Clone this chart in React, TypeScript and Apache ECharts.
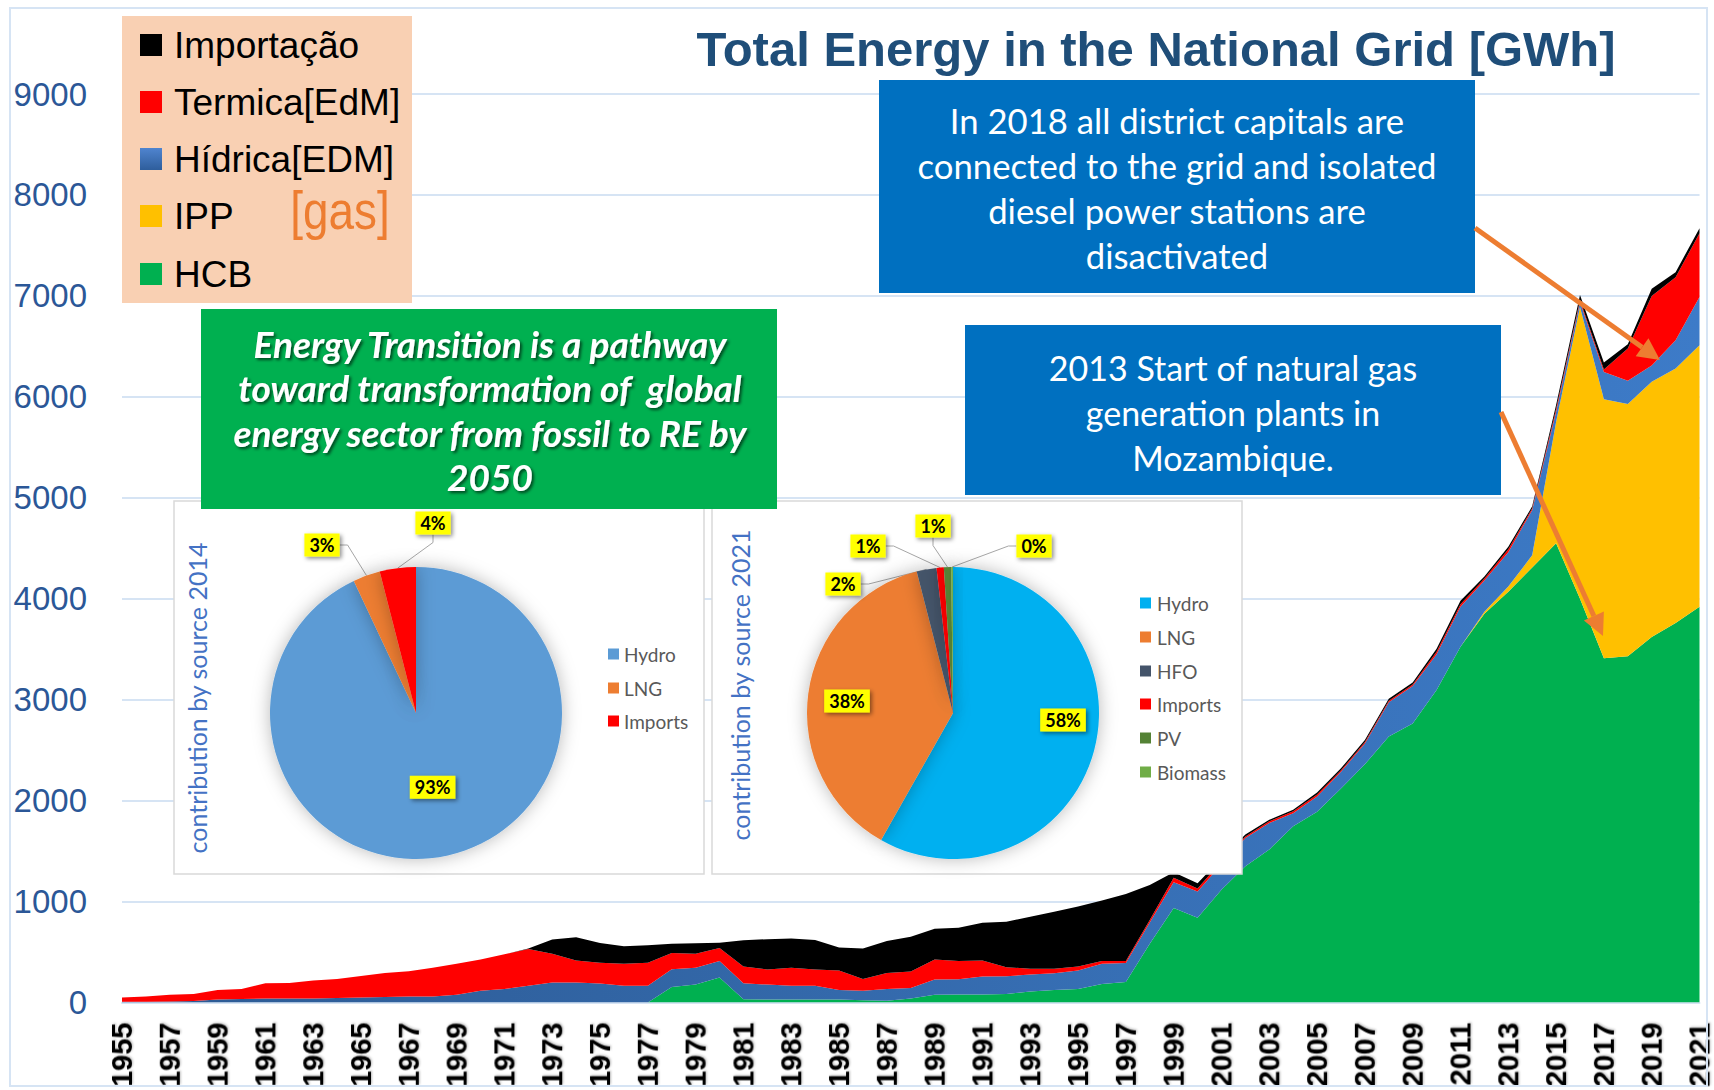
import React, { useEffect, useRef } from 'react';
import * as echarts from 'echarts';

const years = [
  '1955','1956','1957','1958','1959','1960','1961','1962','1963','1964',
  '1965','1966','1967','1968','1969','1970','1971','1972','1973','1974',
  '1975','1976','1977','1978','1979','1980','1981','1982','1983','1984',
  '1985','1986','1987','1988','1989','1990','1991','1992','1993','1994',
  '1995','1996','1997','1998','1999','2000','2001','2002','2003','2004',
  '2005','2006','2007','2008','2009','2010','2011','2012','2013','2014',
  '2015','2016','2017','2018','2019','2020','2021'
];

// GWh per source (stack order bottom -> top)
const hcb = [
  0,0,0,0,0,0,0,0,0,0,
  0,0,0,0,0,0,0,0,0,0,
  0,0,0,153,177,247,33,30,30,30,
  30,23,17,40,77,80,80,83,110,123,
  133,183,203,583,935,840,1118,1350,1515,1745,
  1890,2120,2360,2634,2765,3096,3525,3850,4070,4310,
  4550,4000,3410,3430,3620,3760,3920
];
const ipp = [
  0,0,0,0,0,0,0,0,0,0,
  0,0,0,0,0,0,0,0,0,0,
  0,0,0,0,0,0,0,0,0,0,
  0,0,0,0,0,0,0,0,0,0,
  0,0,0,0,0,0,0,0,0,0,
  0,0,0,0,0,0,0,20,50,120,
  1200,2890,2565,2500,2530,2520,2590
];
const hidrica = [
  7,8,10,15,30,35,40,40,40,45,
  50,55,60,60,77,117,133,167,197,197,
  187,167,167,177,166,163,157,147,137,137,
  93,94,116,103,150,150,177,177,167,167,
  184,200,187,210,255,260,252,280,263,130,
  150,165,205,341,370,354,395,310,340,450,
  100,50,270,230,160,280,480
];
const termica = [
  43,52,67,68,93,98,150,153,177,188,
  213,238,250,283,306,310,344,363,286,220,
  206,216,226,160,140,130,167,150,176,160,
  194,116,160,164,200,180,160,90,56,43,
  40,27,20,24,45,30,30,15,17,20,
  20,15,15,15,15,25,25,20,30,15,
  30,20,25,320,690,625,630
];
const importacao = [
  0,0,0,0,0,0,0,0,0,0,
  0,0,0,0,0,0,0,5,140,230,
  197,174,174,93,104,53,260,300,290,293,
  228,302,317,343,303,330,373,450,517,567,
  593,600,665,348,55,50,30,20,15,15,
  20,20,20,20,20,30,35,20,25,20,
  40,50,70,40,70,50,50
];

const legendNames = ['Importação', 'Termica[EdM]', 'Hídrica[EDM]', 'IPP', 'HCB'];

const pie2014Names = ['Hydro', 'LNG', 'Imports'];
const pie2014Values = [93, 3, 4];
const pie2021Names = ['Hydro', 'LNG', 'HFO', 'Imports', 'PV', 'Biomass'];
const pie2021Values = [58.2, 37.8, 2.2, 0.8, 0.8, 0.2];

const titleText = 'Total Energy in the National Grid [GWh]';
const noteGreen = 'Energy Transition is a pathway\ntoward transformation of  global\nenergy sector from fossil to RE by\n2050';
const note2018 = 'In 2018 all district capitals are\nconnected to the grid and isolated\ndiesel power stations are\ndisactivated';
const note2013 = '2013 Start of natural gas\ngeneration plants in\nMozambique.';

const C_BLACK = '#000000';
const C_RED = '#FF0000';
const C_YELLOW = '#FFC000';
const C_GREEN = '#00B050';
const blueGrad = () =>
  new echarts.graphic.LinearGradient(0, 0, 1, 0, [
    { offset: 0, color: '#2C5A93' },
    { offset: 1, color: '#3D7BC8' },
  ]);

const pie2014Colors = ['#5B9BD5', '#ED7D31', '#FF0000'];
const pie2021Colors = ['#00B0F0', '#ED7D31', '#44546A', '#FF0000', '#548235', '#70AD47'];

export default function App() {
  const ref = useRef<HTMLDivElement>(null);

  useEffect(() => {
    document.body.style.margin = '0';
    if (!ref.current) return;
    const chart = echarts.init(ref.current, undefined, { renderer: 'svg' });

    const area = (name: string, data: number[], color: any) => ({
      name,
      type: 'line',
      stack: 'total',
      data,
      symbol: 'none',
      showSymbol: false,
      lineStyle: { width: 0, opacity: 0 },
      areaStyle: { color, opacity: 1 },
      itemStyle: { color },
      z: 2,
      silent: true,
    });

    const pieLabelStyle = {
      backgroundColor: '#FFFF00',
      color: '#000',
      fontWeight: 'bold',
      fontSize: 18,
      fontFamily: 'Lato',
      padding: [3, 5, 2, 5],
      shadowColor: 'rgba(0,0,0,0.45)',
      shadowBlur: 4,
      shadowOffsetX: 2,
      shadowOffsetY: 2,
      formatter: (p: any) => Math.round(p.percent) + '%',
    };

    const p1c = [416, 713];
    const p2c = [953, 713];
    const pieR = 146;
    const p1Offsets: Record<number, number[]> = { 1: [-94, -168], 2: [17, -190] };
    const p2Offsets: Record<number, number[]> = {
      0: [110, 7], 1: [-106, -12], 2: [-110, -129], 3: [-85, -167], 4: [-20, -187], 5: [81, -167],
    };

    const g: any[] = [];
    g.push({ type: 'rect', z: 1, shape: { x: 10, y: 8, width: 1697, height: 1078 }, style: { fill: 'none', stroke: '#D6E4F4', lineWidth: 2 } });

    // legend box
    g.push({ type: 'rect', z: 10, shape: { x: 122, y: 16, width: 290, height: 287 }, style: { fill: '#F9D0B3' } });
    const legColors: any[] = [
      C_BLACK,
      C_RED,
      { type: 'linear', x: 0, y: 0, x2: 0, y2: 1, colorStops: [{ offset: 0, color: '#4F84CF' }, { offset: 1, color: '#2E5E9C' }] },
      C_YELLOW,
      C_GREEN,
    ];
    const legRows = [45, 102, 159, 216, 274];
    legendNames.forEach((n, i) => {
      g.push({ type: 'rect', z: 11, shape: { x: 140, y: legRows[i] - 11, width: 22, height: 22 }, style: { fill: legColors[i] } });
      g.push({ type: 'text', z: 11, x: 174, y: legRows[i], style: { text: n, fill: '#000', fontSize: 37, fontFamily: 'Liberation Sans, Arial, sans-serif', verticalAlign: 'middle', align: 'left' } });
    });
    g.push({ type: 'text', z: 11, x: 340, y: 211, scaleX: 0.85, style: { text: '[gas]', fill: '#ED7D31', fontSize: 54, fontFamily: 'Liberation Sans, Arial, sans-serif', align: 'center', verticalAlign: 'middle' } });

    // pie boxes
    g.push({ type: 'rect', z: 10, shape: { x: 174, y: 501, width: 530, height: 373 }, style: { fill: '#fff', stroke: '#D9D9D9', lineWidth: 1.5 } });
    g.push({ type: 'rect', z: 10, shape: { x: 712, y: 501, width: 530, height: 373 }, style: { fill: '#fff', stroke: '#D9D9D9', lineWidth: 1.5 } });
    g.push({ type: 'text', z: 21, x: 197, y: 698, rotation: Math.PI / 2, style: { text: 'contribution by source 2014', fill: '#4472C4', fontSize: 25, fontFamily: 'Lato', align: 'center', verticalAlign: 'middle' } });
    g.push({ type: 'text', z: 21, x: 740, y: 685, rotation: Math.PI / 2, style: { text: 'contribution by source 2021', fill: '#4472C4', fontSize: 25, fontFamily: 'Lato', align: 'center', verticalAlign: 'middle' } });

    // pie legends
    const p1LegY = [654, 688, 721];
    pie2014Names.forEach((n, i) => {
      g.push({ type: 'rect', z: 21, shape: { x: 608, y: p1LegY[i] - 5.5, width: 11, height: 11 }, style: { fill: pie2014Colors[i] } });
      g.push({ type: 'text', z: 21, x: 624, y: p1LegY[i], style: { text: n, fill: '#595959', fontSize: 19, fontFamily: 'Lato', verticalAlign: 'middle' } });
    });
    const p2LegY = [603, 637, 671, 704, 738, 772];
    pie2021Names.forEach((n, i) => {
      g.push({ type: 'rect', z: 21, shape: { x: 1140, y: p2LegY[i] - 5.5, width: 11, height: 11 }, style: { fill: pie2021Colors[i] } });
      g.push({ type: 'text', z: 21, x: 1157, y: p2LegY[i], style: { text: n, fill: '#595959', fontSize: 19, fontFamily: 'Lato', verticalAlign: 'middle' } });
    });

    // annotation boxes
    g.push({ type: 'rect', z: 30, shape: { x: 201, y: 309, width: 576, height: 200 }, style: { fill: C_GREEN } });
    g.push({ type: 'text', z: 31, x: 490, y: 410, style: { text: noteGreen, fill: '#fff', fontSize: 37, fontWeight: 'bold', fontStyle: 'italic', fontFamily: 'Lato', lineHeight: 44.5, align: 'center', verticalAlign: 'middle', textShadowColor: 'rgba(0,0,0,0.6)', textShadowBlur: 3, textShadowOffsetX: 2, textShadowOffsetY: 2 } });
    g.push({ type: 'rect', z: 30, shape: { x: 879, y: 80, width: 596, height: 213 }, style: { fill: '#0070C0' } });
    g.push({ type: 'text', z: 31, x: 1177, y: 188, style: { text: note2018, fill: '#fff', fontSize: 34.7, fontFamily: 'Lato', lineHeight: 45, align: 'center', verticalAlign: 'middle' } });
    g.push({ type: 'rect', z: 30, shape: { x: 965, y: 325, width: 536, height: 170 }, style: { fill: '#0070C0' } });
    g.push({ type: 'text', z: 31, x: 1233, y: 412, style: { text: note2013, fill: '#fff', fontSize: 34, fontFamily: 'Lato', lineHeight: 45, align: 'center', verticalAlign: 'middle' } });

    // arrows
    const arrow = (x1: number, y1: number, x2: number, y2: number) => {
      const a = Math.atan2(y2 - y1, x2 - x1);
      const L = 22, W = 11;
      const bx = x2 - L * Math.cos(a), by = y2 - L * Math.sin(a);
      g.push({ type: 'line', z: 40, shape: { x1, y1, x2: bx, y2: by }, style: { stroke: '#ED7D31', lineWidth: 5 } });
      g.push({ type: 'polygon', z: 40, shape: { points: [[x2, y2], [bx + W * Math.sin(a), by - W * Math.cos(a)], [bx - W * Math.sin(a), by + W * Math.cos(a)]] }, style: { fill: '#ED7D31' } });
    };
    arrow(1475, 228, 1660, 360);
    arrow(1501, 412, 1603, 636);

    const pieBase = {
      type: 'pie',
      radius: pieR,
      startAngle: 90,
      clockwise: true,
      z: 20,
      silent: true,
      avoidLabelOverlap: false,
      emphasis: { disabled: true },
      label: pieLabelStyle,
      labelLine: { show: true, length: 8, length2: 8, lineStyle: { color: '#A6A6A6', width: 1 } },
      itemStyle: { shadowBlur: 18, shadowColor: 'rgba(0,0,0,0.28)', borderWidth: 0 },
    };

    const option: any = {
      animation: false,
      backgroundColor: '#fff',
      title: {
        text: titleText,
        left: 1156,
        top: 24,
        textAlign: 'center',
        padding: 0,
        textStyle: { fontSize: 49, fontWeight: 'bold', color: '#1F4E79', fontFamily: 'Liberation Sans, Arial, sans-serif' },
      },
      grid: { left: 122, right: 12, top: 94, bottom: 84 },
      xAxis: {
        type: 'category',
        data: years,
        boundaryGap: false,
        axisLine: { show: true, lineStyle: { color: '#D6E4F4', width: 2 } },
        axisTick: { show: false },
        axisLabel: {
          interval: 1,
          rotate: 90,
          margin: 20,
          fontSize: 29,
          fontWeight: 'bold',
          color: '#000',
          fontFamily: "'Liberation Sans Narrow', 'Arial Narrow', sans-serif",
          textShadowColor: 'rgba(0,0,0,0.25)',
          textShadowBlur: 2,
          textShadowOffsetX: 1,
          textShadowOffsetY: 1,
        },
      },
      yAxis: {
        type: 'value',
        min: 0,
        max: 9000,
        interval: 1000,
        axisLine: { show: false },
        axisTick: { show: false },
        splitLine: { lineStyle: { color: '#D6E4F4', width: 2 } },
        axisLabel: {
          margin: 35,
          fontSize: 33,
          color: '#2B5797',
          fontFamily: 'Liberation Sans, Arial, sans-serif',
          formatter: (v: number) => String(v),
        },
      },
      series: [
        area('HCB', hcb, C_GREEN),
        area('IPP', ipp, C_YELLOW),
        area('Hídrica[EDM]', hidrica, blueGrad()),
        area('Termica[EdM]', termica, C_RED),
        area('Importação', importacao, C_BLACK),
        {
          ...pieBase,
          name: 'contribution by source 2014',
          center: p1c,
          data: pie2014Names.map((n, i) => ({
            name: n,
            value: pie2014Values[i],
            itemStyle: { color: pie2014Colors[i] },
            label: { position: i === 0 ? 'inside' : 'outside' },
            labelLine: { show: i !== 0 },
          })),
          labelLayout: (p: any) => {
            const o = p1Offsets[p.dataIndex];
            if (!o) return {};
            return { x: p1c[0] + o[0], y: p1c[1] + o[1], align: 'center', verticalAlign: 'middle' };
          },
        },
        {
          ...pieBase,
          name: 'contribution by source 2021',
          center: p2c,
          data: pie2021Names.map((n, i) => ({
            name: n,
            value: pie2021Values[i],
            itemStyle: { color: pie2021Colors[i] },
            label: { position: i < 2 ? 'inside' : 'outside' },
            labelLine: { show: i >= 2 },
          })),
          labelLayout: (p: any) => {
            const o = p2Offsets[p.dataIndex];
            if (!o) return {};
            return { x: p2c[0] + o[0], y: p2c[1] + o[1], align: 'center', verticalAlign: 'middle' };
          },
        },
      ],
      graphic: { elements: g },
    };

    chart.setOption(option);
    return () => chart.dispose();
  }, []);

  return <div ref={ref} style={{ width: 1714, height: 1090 }} />;
}
